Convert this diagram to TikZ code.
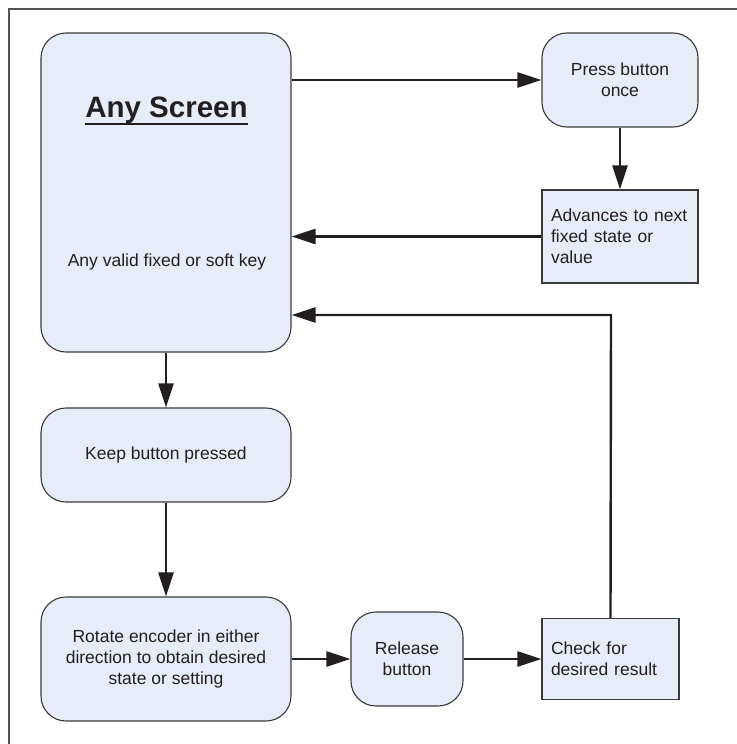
\documentclass[tikz,border=0pt]{standalone}
\usepackage{fontspec}
\setmainfont{Liberation Sans}
\usetikzlibrary{arrows.meta,calc}
\definecolor{boxfill}{HTML}{E6EDF8}
\definecolor{boxline}{HTML}{3A3A3A}
\definecolor{ink}{HTML}{231F20}
\definecolor{framecol}{HTML}{555555}
\tikzset{
  base/.style={draw=boxline, line width=1.1pt, fill=boxfill, text=ink, inner sep=0pt,
    font=\fontsize{17.5}{21}\selectfont},
  roundbox/.style={base, rounded corners=25pt, align=center},
  rectbox/.style={base, align=left},
  arr/.style={draw=ink, line width=2.4pt, -{Triangle[length=24pt,width=15pt]}},
}
\begin{document}
\begin{tikzpicture}[x=1pt,y=-1pt]
\useasboundingbox (0,0) rectangle (736,744);
\draw[framecol, line width=1.5pt] (9,9) rectangle (742,752);

\node[roundbox, minimum width=250pt, minimum height=319pt] (any) at (166,192.5) {};
\node[text=ink, inner sep=0pt, font=\fontsize{29.5}{34}\selectfont\bfseries] (title) at (166.5,110) {Any Screen};
\draw[ink, line width=2pt] (title.south west) -- (title.south east);
\node[text=ink, inner sep=0pt, font=\fontsize{17.5}{21}\selectfont] (anyvalid) at (167,262) {Any valid fixed or soft key};

\node[roundbox, minimum width=156pt, minimum height=94pt] (press) at (620,80) {Press button\\once};
\node[rectbox, minimum width=156pt, minimum height=93pt, text width=138pt] (adv) at (620,236.5) {Advances to next\\fixed state or\\value};
\node[roundbox, minimum width=250pt, minimum height=94pt] (keep) at (166,455) {Keep button pressed};
\node[roundbox, minimum width=250pt, minimum height=124pt] (rot) at (166,659) {Rotate encoder in either\\direction to obtain desired\\state or setting};
\node[roundbox, minimum width=112pt, minimum height=94pt] (rel) at (407,659) {Release\\button};
\node[rectbox, minimum width=137pt, minimum height=81pt, text width=119pt] (chk) at (610.5,659) {Check for\\desired result};

\coordinate (ret) at (611,315);

\draw[arr] (any.east |- press.west) -- (press.west);
\draw[arr] (press.south) -- (adv.north);
\draw[arr] (adv.west) -- (any.east |- adv.west);
\draw[arr] (chk.north) -- (ret) -- (any.east |- ret);
\draw[arr] (any.south) -- (keep.north);
\draw[arr] (keep.south) -- (rot.north);
\draw[arr] (rot.east) -- (rel.west);
\draw[arr] (rel.east) -- (chk.west);
\end{tikzpicture}
\end{document}
